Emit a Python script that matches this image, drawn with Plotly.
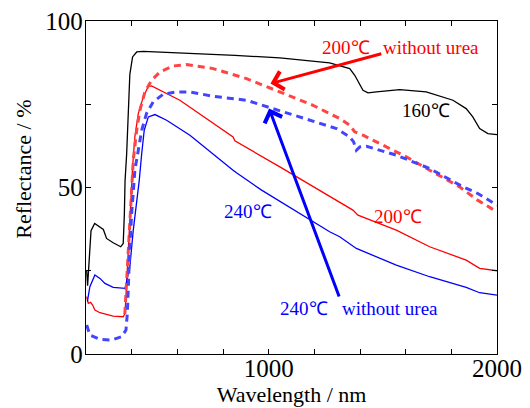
import plotly.graph_objects as go

# ---- data (wavelength in nm, reflectance in %) ----
wl_160 = [203, 207, 212, 222, 238, 261, 276, 290, 319, 352, 363, 368, 371, 378, 385, 392, 404, 422, 451,
          611, 852, 1049, 1267, 1355, 1377, 1413, 1435, 1472, 1574, 1690, 1807, 1865, 1894, 1924, 1960, 2000]
r_160 = [25.0, 20.5, 26.0, 37.0, 39.2, 38.2, 37.4, 34.7, 33.4, 32.2, 33.2, 42.0, 52.0, 60.0, 75.0, 84.0, 89.2, 90.7, 90.9,
         90.5, 89.7, 88.9, 87.4, 85.7, 83.7, 79.2, 78.4, 78.7, 79.4, 78.7, 76.2, 73.7, 71.2, 67.7, 66.2, 65.9]

wl_200 = [203, 210, 220, 229, 239, 261, 319, 363, 371, 378, 385, 392, 400, 404, 414, 429, 451, 473, 487,
          611, 844, 852, 1049, 1209, 1267, 1369, 1391, 1559, 1705, 1865, 1924, 2000]
r_200 = [17.2, 15.2, 15.5, 14.7, 13.2, 12.4, 11.4, 11.2, 12.2, 22.2, 32.2, 42.2, 52.0, 56.2, 65.2, 72.2, 77.2, 80.4, 80.5,
         76.2, 65.2, 64.0, 56.2, 49.7, 47.2, 43.2, 41.7, 37.2, 32.2, 28.2, 25.7, 25.0]

wl_240 = [206, 217, 239, 261, 283, 319, 371, 392, 407, 422, 433, 444, 455, 473, 502, 553, 611, 655,
          844, 859, 969, 1180, 1267, 1311, 1384, 1559, 1705, 1865, 1924, 2000]
r_240 = [15.7, 20.2, 23.7, 22.7, 21.2, 20.0, 19.7, 26.2, 37.2, 45.0, 52.0, 60.2, 67.2, 71.2, 71.9, 70.2, 67.7, 65.7,
         55.2, 54.4, 49.2, 40.2, 36.7, 35.2, 31.7, 26.7, 23.2, 20.0, 18.4, 17.7]

wl_200n = [370, 378, 385, 392, 400, 407, 422, 436, 458, 487, 524, 582, 640, 757, 903, 1049, 1194, 1267, 1311,
           1355, 1377, 1413, 1603, 1705, 1836, 1915, 2000]
r_200n = [12.0, 22.0, 32.0, 42.0, 50.2, 58.2, 67.2, 73.2, 78.7, 82.2, 84.7, 86.5, 86.9, 85.7, 82.7, 78.7, 74.7, 72.2, 70.7,
          68.7, 66.7, 65.7, 59.2, 55.2, 50.2, 46.2, 42.7]

wl_240n = [203, 217, 261, 312, 356, 375, 381, 385, 392, 400, 407, 414, 429, 444, 465, 494, 538, 597, 655,
           757, 903, 1005, 1122, 1297, 1355, 1372, 1384, 1399, 1428, 1559, 1705, 1851, 1916, 2000]
r_240n = [8.7, 5.7, 4.4, 4.2, 5.2, 7.2, 12.2, 22.2, 32.2, 42.2, 50.2, 55.2, 61.2, 67.2, 72.2, 75.7, 78.0, 78.7, 78.7,
          77.4, 76.2, 74.0, 71.7, 67.7, 65.2, 63.7, 61.2, 62.2, 62.4, 59.7, 55.7, 50.2, 48.2, 44.7]

x_tickvals = [200, 400, 600, 800, 1000, 1200, 1400, 1600, 1800, 2000]
x_ticktext = ["", "", "", "", "1000", "", "", "", "", "2000"]
y_tickvals = [0, 25, 50, 75, 100]
y_ticktext = ["0", "", "50", "", "100"]

FONT = "Liberation Serif"

fig = go.Figure()
fig.add_trace(go.Scatter(x=wl_160, y=r_160, mode="lines", line=dict(color="black", width=1.3)))
fig.add_trace(go.Scatter(x=wl_200, y=r_200, mode="lines", line=dict(color="#FF0000", width=1.3)))
fig.add_trace(go.Scatter(x=wl_240, y=r_240, mode="lines", line=dict(color="#0000FF", width=1.3)))
fig.add_trace(go.Scatter(x=wl_200n, y=r_200n, mode="lines",
                         line=dict(color="#FF4444", width=3, dash="7px,5px")))
fig.add_trace(go.Scatter(x=wl_240n, y=r_240n, mode="lines",
                         line=dict(color="#4444FF", width=3, dash="7px,5px")))

red = "#FF0000"
blue = "#0000FF"
tf = 19
annotations = [
    dict(x=1224, y=92.1, text="200℃", font=dict(color=red, size=tf, family=FONT), xanchor="left"),
    dict(x=1493, y=92.1, text="without urea", font=dict(color=red, size=tf, family=FONT), xanchor="left"),
    dict(x=1690, y=73.2, text="160℃", font=dict(color="black", size=tf, family=FONT)),
    dict(x=1565, y=41.2, text="200℃", font=dict(color=red, size=tf, family=FONT)),
    dict(x=909, y=42.7, text="240℃", font=dict(color=blue, size=tf, family=FONT)),
    dict(x=1041, y=13.8, text="240℃", font=dict(color=blue, size=tf, family=FONT), xanchor="left"),
    dict(x=1311, y=13.8, text="without urea", font=dict(color=blue, size=tf, family=FONT), xanchor="left"),
]
for a in annotations:
    a.update(xref="x", yref="y", showarrow=False)

arrows = [
    dict(x=1008, y=81.2, ax=1500, ay=90.3, arrowcolor=red),
    dict(x=1002, y=73.7, ax=1311, ay=16.8, arrowcolor=blue),
]
for a in arrows:
    a.update(xref="x", yref="y", axref="x", ayref="y", text="", showarrow=True,
             arrowhead=4, arrowsize=1.2, arrowwidth=3)

# y-axis title (placed slightly above the axis centre, as in the original)
ytitle = dict(xref="paper", yref="paper", x=-0.151, y=0.556, text="Reflectance / %",
              textangle=-90, showarrow=False, xanchor="center", yanchor="middle",
              font=dict(size=22, family=FONT, color="black"))

fig.update_layout(
    width=530, height=408,
    margin=dict(l=86, r=33, t=21, b=54),
    paper_bgcolor="white", plot_bgcolor="white",
    showlegend=False,
    font=dict(family=FONT, color="black"),
    annotations=annotations + arrows + [ytitle],
    xaxis=dict(range=[200, 2000], tickvals=x_tickvals, ticktext=x_ticktext,
               ticks="inside", ticklen=5, tickwidth=1, tickcolor="black",
               showline=True, linecolor="black", linewidth=1.3, mirror="ticks",
               showgrid=False, zeroline=False, automargin=False,
               ticklabelstandoff=-8,
               tickfont=dict(size=25, family=FONT),
               title=dict(text="Wavelength / nm", font=dict(size=22, family=FONT), standoff=0)),
    yaxis=dict(range=[0, 100], tickvals=y_tickvals, ticktext=y_ticktext,
               ticks="inside", ticklen=5, tickwidth=1, tickcolor="black",
               showline=True, linecolor="black", linewidth=1.3, mirror="ticks",
               showgrid=False, zeroline=False, automargin=False,
               ticklabelstandoff=-3,
               tickfont=dict(size=25, family=FONT)),
)

fig.write_html("out.html", config={"displayModeBar": False},
               post_script="document.body.style.margin='0';document.body.style.padding='0';")
